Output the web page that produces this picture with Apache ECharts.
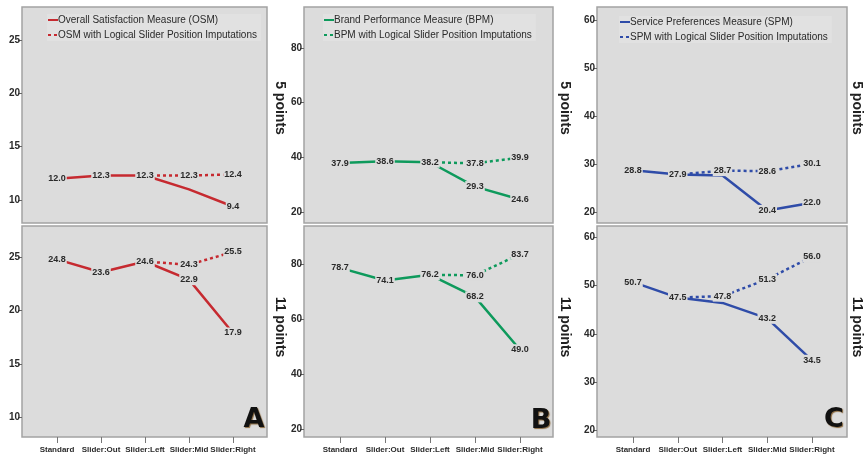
<!DOCTYPE html>
<html>
<head>
<meta charset="utf-8">
<style>
  html, body { margin: 0; padding: 0; background: #fff; }
  #chart { width: 864px; height: 465px; }
</style>
<script src="https://cdn.jsdelivr.net/npm/echarts@6/dist/echarts.min.js"></script>
</head>
<body>
<div id="chart"></div>
<script>
// conditions on the x axis
const categories = ['Standard', 'Slider:Out', 'Slider:Left', 'Slider:Mid', 'Slider:Right']

// A - Overall Satisfaction Measure
const osm5 = [12.0, 12.3, 12.3, 11.0, 9.4]
const osm5Imp = ['-', '-', 12.3, 12.3, 12.4]
const osm11 = [24.8, 23.6, 24.6, 22.9, 17.9]
const osm11Imp = ['-', '-', 24.6, 24.3, 25.5]

// B - Brand Performance Measure
const bpm5 = [37.9, 38.6, 38.2, 29.3, 24.6]
const bpm5Imp = ['-', '-', 38.2, 37.8, 39.9]
const bpm11 = [78.7, 74.1, 76.2, 68.2, 49.0]
const bpm11Imp = ['-', '-', 76.2, 76.0, 83.7]

// C - Service Preferences Measure
const spm5 = [28.8, 27.9, 27.7, 20.4, 22.0]
const spm5Imp = ['-', 27.9, 28.7, 28.6, 30.1]
const spm11 = [50.7, 47.5, 46.4, 43.2, 34.5]
const spm11Imp = ['-', 47.5, 47.8, 51.3, 56.0]

// y tick labels
const ticksA = [10, 15, 20, 25]
const ticksB = [20, 40, 60, 80]
const ticksC = [20, 30, 40, 50, 60]

const FONT = '"Liberation Sans", Arial, sans-serif'
const PANEL = '#dcdcdc'
const RED = '#c62a30'
const GREEN = '#0e9a5c'
const BLUE = '#2f4ca8'

// panel frames; padL/padR = room between frame and first/last category
const cols = [
  { left: 22, width: 245, padL: 35, padR: 34 },
  { left: 304, width: 249, padL: 36, padR: 33 },
  { left: 597, width: 250, padL: 36, padR: 35 }
]
const rows = [
  { top: 7, height: 216 },
  { top: 226, height: 211 }
]
// y ranges per panel [col][row]
const ranges = [
  [[7.85, 28.1], [8.15, 27.93]],
  [[16.0, 94.9], [17.35, 93.9]],
  [[17.77, 62.86], [18.6, 62.34]]
]
const yTicks = [ticksA, ticksB, ticksC]

const grids = []
const xAxes = []
const yAxes = []
const frames = []
cols.forEach((c, ci) => {
  rows.forEach((r, ri) => {
    const idx = grids.length
    frames.push({
      type: 'rect',
      z: -10,
      shape: { x: c.left, y: r.top, width: c.width, height: r.height },
      style: { fill: PANEL, stroke: '#a3a3a3', lineWidth: 1.5 }
    })
    grids.push({
      left: c.left + c.padL,
      top: r.top,
      width: c.width - c.padL - c.padR,
      height: r.height
    })
    const bottom = ri === 1
    xAxes.push({
      gridIndex: idx,
      type: 'category',
      data: categories,
      boundaryGap: false,
      axisLine: { show: false },
      splitLine: { show: false },
      axisTick: {
        show: bottom,
        length: 6,
        lineStyle: { color: '#777' }
      },
      axisLabel: {
        show: bottom,
        interval: 0,
        margin: 9,
        fontFamily: FONT,
        fontWeight: 'bold',
        fontSize: 8,
        color: '#2a2a2a'
      }
    })
    yAxes.push({
      gridIndex: idx,
      type: 'value',
      min: ranges[ci][ri][0],
      max: ranges[ci][ri][1],
      offset: c.padL,
      axisLine: { show: false, onZero: false },
      splitLine: { show: false },
      axisTick: {
        show: true,
        length: 4,
        customValues: yTicks[ci],
        lineStyle: { color: '#666' }
      },
      axisLabel: {
        customValues: yTicks[ci],
        margin: 2,
        fontFamily: FONT,
        fontWeight: 'bold',
        fontSize: 10,
        color: '#2a2a2a'
      }
    })
  })
})

function makeSeries(name, values, grid, color, dotted, hideIdx) {
  return {
    name: name,
    type: 'line',
    xAxisIndex: grid,
    yAxisIndex: grid,
    data: values.map((v, i) => ({ value: v, label: { show: hideIdx.indexOf(i) < 0 } })),
    symbol: 'circle',
    symbolSize: 1,
    itemStyle: { color: 'rgba(0,0,0,0)' },
    lineStyle: { color: color, width: 2.5, type: dotted ? [3, 3] : 'solid' },
    emphasis: { disabled: true },
    z: 2,
    label: {
      show: true,
      position: 'inside',
      formatter: p => Number(p.value).toFixed(1),
      fontFamily: FONT,
      fontWeight: 'bold',
      fontSize: 9,
      color: '#2a2a2a',
      backgroundColor: PANEL,
      padding: [1, 1]
    }
  }
}

const names = {
  osm: 'Overall Satisfaction Measure (OSM)',
  osmI: 'OSM with Logical Slider Position Imputations',
  bpm: 'Brand Performance Measure (BPM)',
  bpmI: 'BPM with Logical Slider Position Imputations',
  spm: 'Service Preferences Measure (SPM)',
  spmI: 'SPM with Logical Slider Position Imputations'
}

const series = [
  makeSeries(names.osm, osm5, 0, RED, false, [3]),
  makeSeries(names.osmI, osm5Imp, 0, RED, true, [2]),
  makeSeries(names.osm, osm11, 1, RED, false, []),
  makeSeries(names.osmI, osm11Imp, 1, RED, true, [2]),
  makeSeries(names.bpm, bpm5, 2, GREEN, false, []),
  makeSeries(names.bpmI, bpm5Imp, 2, GREEN, true, [2]),
  makeSeries(names.bpm, bpm11, 3, GREEN, false, []),
  makeSeries(names.bpmI, bpm11Imp, 3, GREEN, true, [2]),
  makeSeries(names.spm, spm5, 4, BLUE, false, [2]),
  makeSeries(names.spmI, spm5Imp, 4, BLUE, true, [1]),
  makeSeries(names.spm, spm11, 5, BLUE, false, [2]),
  makeSeries(names.spmI, spm11Imp, 5, BLUE, true, [1])
]

function makeLegend(left, top, items) {
  return {
    orient: 'vertical',
    left: left,
    top: top,
    data: items,
    itemWidth: 10,
    itemHeight: 10,
    itemGap: 5,
    padding: [1, 4, 1, 0],
    backgroundColor: '#e1e1e1',
    selectedMode: false,
    textStyle: {
      fontFamily: FONT,
      fontSize: 10,
      color: '#2a2a2a',
      padding: [0, 0, 0, -5]
    }
  }
}

const sideText = (x, y, text) => ({
  type: 'text',
  x: x,
  y: y,
  rotation: -Math.PI / 2,
  style: {
    text: text,
    fontFamily: FONT,
    fontWeight: 'bold',
    fontSize: 14,
    fill: '#222',
    align: 'center',
    verticalAlign: 'middle'
  }
})

const bigLetter = (x, y, text) => ({
  type: 'text',
  x: x,
  y: y,
  style: {
    text: text,
    fontFamily: '"DejaVu Sans", sans-serif',
    fontWeight: 'bold',
    fontSize: 27,
    fill: '#111',
    align: 'center',
    verticalAlign: 'middle',
    textShadowColor: '#8a6a40',
    textShadowOffsetX: 1,
    textShadowOffsetY: 1,
    textShadowBlur: 1
  }
})

const chart = echarts.init(document.getElementById('chart'))
chart.setOption({
  backgroundColor: '#fff',
  animation: false,
  grid: grids,
  xAxis: xAxes,
  yAxis: yAxes,
  legend: [
    makeLegend(47, 14, [names.osm, names.osmI]),
    makeLegend(323, 14, [names.bpm, names.bpmI]),
    makeLegend(619, 16, [names.spm, names.spmI])
  ],
  series: series,
  graphic: frames.concat([
    sideText(280, 108, '5 points'),
    sideText(280, 327, '11 points'),
    sideText(565, 108, '5 points'),
    sideText(565, 327, '11 points'),
    sideText(857, 108, '5 points'),
    sideText(857, 327, '11 points'),
    bigLetter(254, 420, 'A'),
    bigLetter(541, 421, 'B'),
    bigLetter(834, 420, 'C')
  ])
})
</script>
</body>
</html>
